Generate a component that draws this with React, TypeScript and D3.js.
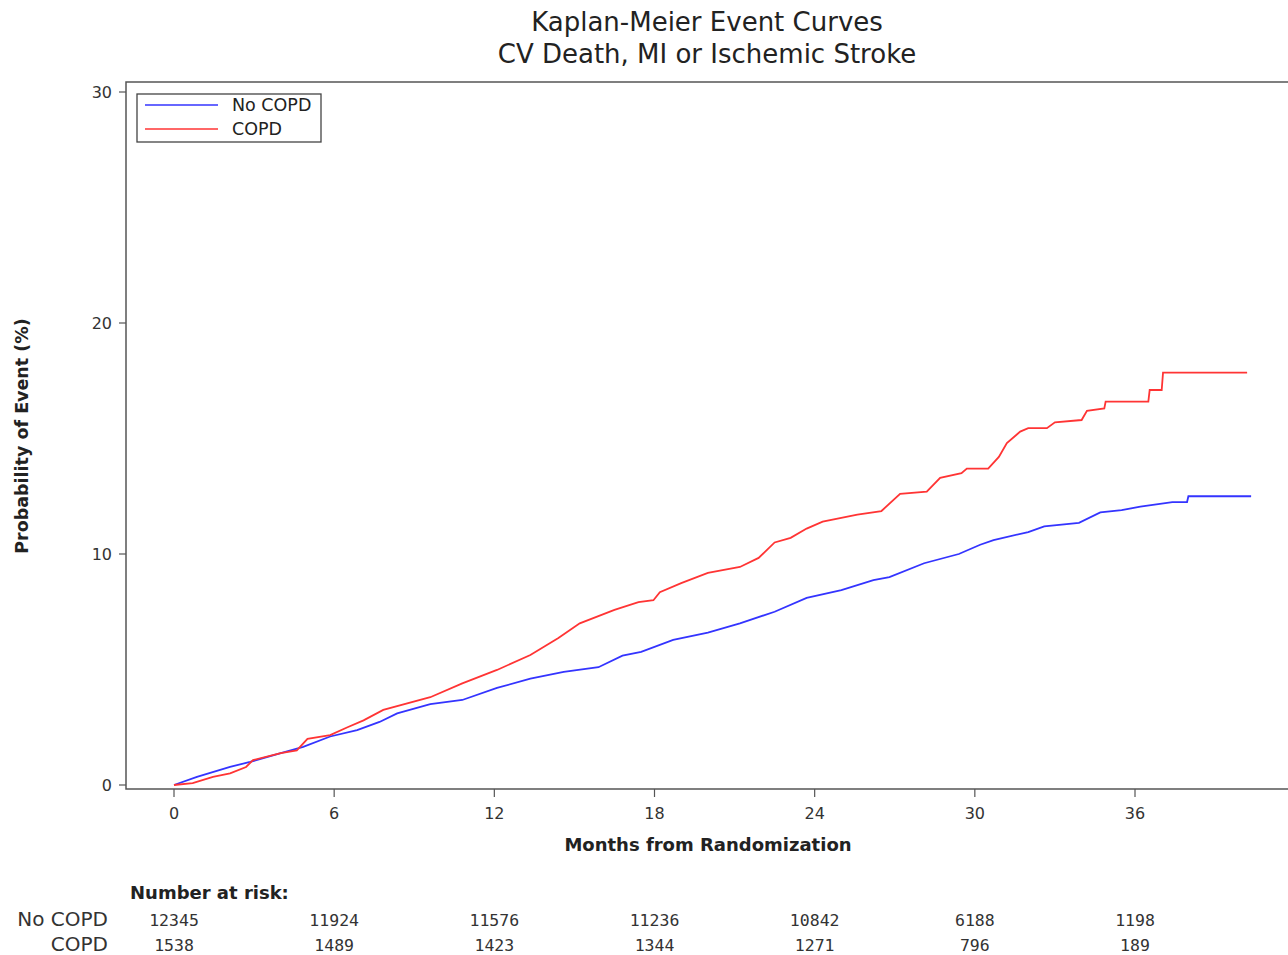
import { scaleLinear, line as d3_line, curveLinear } from "d3";

// Kaplan-Meier estimates: [month, percent]
const noCopdCurve: [number, number][] = [
  [0, 0], [0.86, 0.35], [2.1, 0.78], [2.85, 1.0], [4.0, 1.38], [4.84, 1.65],
  [5.85, 2.1], [6.86, 2.38], [7.7, 2.73], [8.36, 3.1], [9.6, 3.5], [10.8, 3.68],
  [12.1, 4.2], [13.35, 4.6], [14.6, 4.9], [15.9, 5.1], [16.8, 5.6], [17.5, 5.76],
  [18.7, 6.28], [20.0, 6.6], [21.2, 7.0], [22.5, 7.5], [23.7, 8.1], [25.0, 8.44],
  [26.2, 8.87], [26.8, 9.0], [28.1, 9.6], [29.4, 10.0], [30.2, 10.4], [30.7, 10.6],
  [32.0, 10.95], [32.6, 11.2], [33.9, 11.35], [34.7, 11.8], [35.5, 11.9],
  [36.2, 12.05], [37.4, 12.25], [37.95, 12.25], [38.0, 12.5], [40.35, 12.5],
];

const copdCurve: [number, number][] = [
  [0, 0], [0.7, 0.08], [1.46, 0.35], [2.1, 0.5], [2.7, 0.78], [2.96, 1.08],
  [4.0, 1.38], [4.6, 1.5], [5.0, 2.0], [5.85, 2.16], [6.5, 2.5], [7.1, 2.8],
  [7.84, 3.25], [9.6, 3.8], [10.8, 4.4], [12.1, 4.98], [13.35, 5.63], [14.4, 6.36],
  [15.2, 7.0], [16.5, 7.58], [17.4, 7.92], [17.96, 8.0], [18.2, 8.35], [19.0, 8.74],
  [20.0, 9.18], [21.2, 9.44], [21.9, 9.83], [22.5, 10.5], [23.1, 10.7], [23.7, 11.1],
  [24.3, 11.4], [25.6, 11.7], [26.5, 11.86], [27.2, 12.6], [28.2, 12.7], [28.7, 13.3],
  [29.5, 13.5], [29.7, 13.7], [30.5, 13.7], [30.9, 14.2], [31.2, 14.8], [31.7, 15.3],
  [32.0, 15.45], [32.7, 15.45], [33.0, 15.7], [34.0, 15.8], [34.2, 16.2],
  [34.85, 16.3], [34.9, 16.6], [36.5, 16.6], [36.55, 17.1], [37.0, 17.1],
  [37.05, 17.85], [40.2, 17.85],
];

const xTicks = [0, 6, 12, 18, 24, 30, 36];
const yTicks = [0, 10, 20, 30];
const riskNoCopd = [12345, 11924, 11576, 11236, 10842, 6188, 1198];
const riskCopd = [1538, 1489, 1423, 1344, 1271, 796, 189];

const font = "'DejaVu Sans', sans-serif";
const mono = "'DejaVu Sans Mono', monospace";
const BLUE = "#3434ff";
const RED = "#ff3434";

export default function App() {
  const x = scaleLinear().domain([0, 36]).range([174, 1135]);
  const y = scaleLinear().domain([0, 30]).range([785, 92]);

  const frame = { left: 126, top: 82, bottom: 789 };

  const line = d3_line<[number, number]>()
    .x((d) => x(d[0]))
    .y((d) => y(d[1]))
    .curve(curveLinear);

  return (
    <svg
      width={1288}
      height={955}
      style={{ position: "absolute", left: 0, top: 0, background: "#fff" }}
      fontFamily={font}
    >
      {/* Title */}
      <text x={707} y={31} textAnchor="middle" fontSize={26} fill="#222">
        Kaplan-Meier Event Curves
      </text>
      <text x={707} y={63} textAnchor="middle" fontSize={26} fill="#222">
        CV Death, MI or Ischemic Stroke
      </text>

      {/* Frame */}
      <rect
        x={frame.left}
        y={frame.top}
        width={1300}
        height={frame.bottom - frame.top}
        fill="none"
        stroke="#555"
        strokeWidth={1.5}
      />

      {/* Y axis */}
      {yTicks.map((t) => (
        <g key={t} transform={`translate(0,${y(t)})`}>
          <line x1={frame.left - 7} x2={frame.left} stroke="#555" strokeWidth={1.2} />
          <text x={112} dy="0.35em" textAnchor="end" fontSize={16} fill="#333">
            {t}
          </text>
        </g>
      ))}
      <text
        transform="translate(28,436) rotate(-90)"
        textAnchor="middle"
        fontSize={17.5}
        fontWeight="bold"
        fill="#222"
      >
        Probability of Event (%)
      </text>

      {/* X axis */}
      {xTicks.map((t) => (
        <g key={t} transform={`translate(${x(t)},${frame.bottom})`}>
          <line y1={0} y2={8} stroke="#555" strokeWidth={1.2} />
          <text y={30} textAnchor="middle" fontSize={16} fill="#333">
            {t}
          </text>
        </g>
      ))}
      <text x={708} y={851} textAnchor="middle" fontSize={18} fontWeight="bold" fill="#222">
        Months from Randomization
      </text>

      {/* Curves */}
      <path d={line(noCopdCurve) ?? ""} fill="none" stroke={BLUE} strokeWidth={1.8} />
      <path d={line(copdCurve) ?? ""} fill="none" stroke={RED} strokeWidth={1.8} />

      {/* Legend */}
      <rect x={137} y={94} width={184} height={48} fill="#fff" stroke="#444" strokeWidth={1.3} />
      <line x1={145} x2={218} y1={105} y2={105} stroke={BLUE} strokeWidth={1.6} />
      <line x1={145} x2={218} y1={129} y2={129} stroke={RED} strokeWidth={1.6} />
      <text x={232} y={111} fontSize={17.5} fill="#222">No COPD</text>
      <text x={232} y={135} fontSize={17.5} fill="#222">COPD</text>

      {/* Number at risk */}
      <text x={130} y={899} fontSize={18} fontWeight="bold" fill="#222">
        Number at risk:
      </text>
      <text x={108} y={926} textAnchor="end" fontSize={20} fill="#333">No COPD</text>
      <text x={108} y={951} textAnchor="end" fontSize={20} fill="#333">COPD</text>
      {xTicks.map((t, i) => (
        <g key={t}>
          <text x={x(t)} y={926} textAnchor="middle" fontSize={16.5} fontFamily={mono} fill="#333">
            {riskNoCopd[i]}
          </text>
          <text x={x(t)} y={951} textAnchor="middle" fontSize={16.5} fontFamily={mono} fill="#333">
            {riskCopd[i]}
          </text>
        </g>
      ))}
    </svg>
  );
}
